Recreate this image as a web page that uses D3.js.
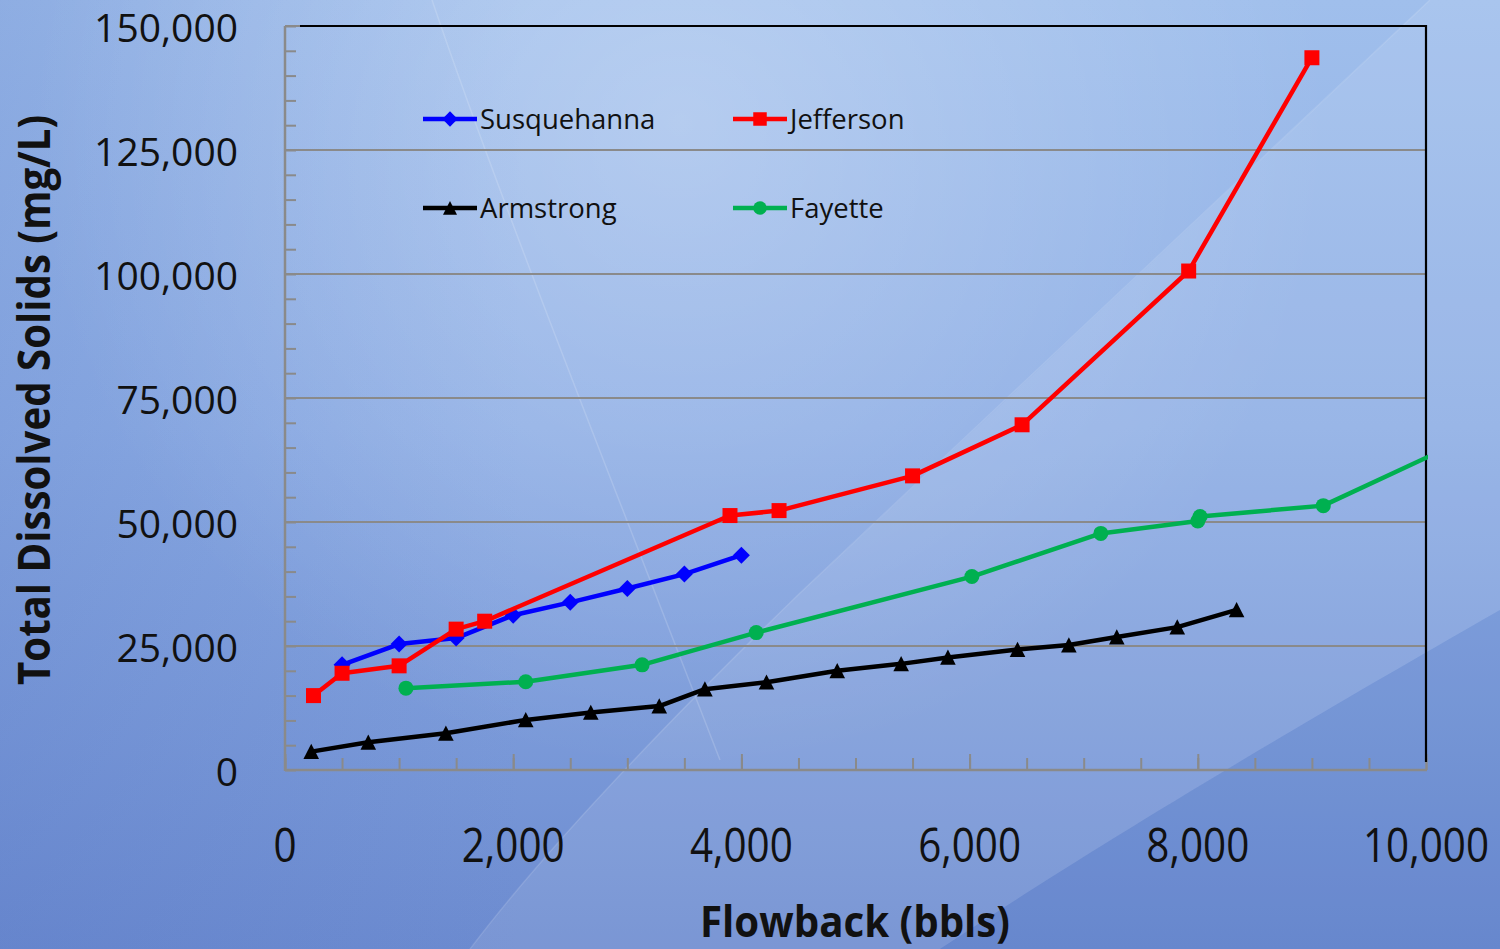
<!DOCTYPE html>
<html>
<head>
<meta charset="utf-8">
<script src="https://cdn.jsdelivr.net/npm/d3@7"></script>
<style>
  html, body { margin: 0; padding: 0; background: #8aaae2; }
  svg { display: block; }
</style>
</head>
<body>
<svg id="chart" width="1500" height="949"></svg>
<script>
// ---- data -------------------------------------------------------------
const seriesNames = ["Susquehanna", "Jefferson", "Armstrong", "Fayette"];

const susquehannaX = [500, 1000, 1500, 2000, 2500, 3000, 3500, 4000];
const susquehannaY = [21200, 25400, 26600, 31200, 33800, 36600, 39500, 43300];

const jeffersonX = [250, 500, 1000, 1500, 1750, 3900, 4330, 5500, 6460, 7920, 9000];
const jeffersonY = [15000, 19500, 21000, 28400, 30000, 51300, 52300, 59300, 69600, 100600, 143600];

const armstrongX = [230, 730, 1410, 2110, 2680, 3280, 3680, 4220, 4840, 5400, 5810, 6420, 6870, 7290, 7820, 8340];
const armstrongY = [3700, 5600, 7400, 10100, 11600, 12900, 16300, 17700, 20000, 21400, 22700, 24300, 25200, 26800, 28800, 32300];

const fayetteX = [1060, 2110, 3130, 4130, 6020, 7150, 8000, 8020, 9100, 10500];
const fayetteY = [16500, 17800, 21200, 27700, 39000, 47700, 50200, 51100, 53300, 68300];

const yTickValues = [0, 25000, 50000, 75000, 100000, 125000, 150000];
const xTickValues = [0, 2000, 4000, 6000, 8000, 10000];

const xTitle = "Flowback (bbls)";
const yTitle = "Total Dissolved Solids (mg/L)";

// ---- layout ------------------------------------------------------------
const W = 1500, H = 949;
const plot = { left: 285, right: 1426, top: 26, bottom: 770 };

const x = d3.scaleLinear().domain([0, 10000]).range([plot.left, plot.right]);
const y = d3.scaleLinear().domain([0, 150000]).range([plot.bottom, plot.top]);

const svg = d3.select("#chart");
const defs = svg.append("defs");

// ---- backdrop ----------------------------------------------------------
const bgGrad = defs.append("linearGradient").attr("id", "bgGrad")
  .attr("x1", 0).attr("y1", 0).attr("x2", 0).attr("y2", 1);
[["0%", "#a0bfec"], ["45%", "#8eaee5"], ["100%", "#6c8bd0"]].forEach(([o, c]) =>
  bgGrad.append("stop").attr("offset", o).attr("stop-color", c));

const sideGrad = defs.append("linearGradient").attr("id", "sideGrad")
  .attr("x1", 0).attr("y1", 0).attr("x2", 1).attr("y2", 0);
sideGrad.append("stop").attr("offset", "0%").attr("stop-color", "#4f6fc0").attr("stop-opacity", 0.22);
sideGrad.append("stop").attr("offset", "35%").attr("stop-color", "#4f6fc0").attr("stop-opacity", 0);

const glow = defs.append("radialGradient").attr("id", "glow")
  .attr("gradientUnits", "userSpaceOnUse").attr("cx", 680).attr("cy", 120).attr("r", 650);
glow.append("stop").attr("offset", "0%").attr("stop-color", "#ffffff").attr("stop-opacity", 0.26);
glow.append("stop").attr("offset", "100%").attr("stop-color", "#ffffff").attr("stop-opacity", 0);

const back = svg.append("g").attr("class", "backdrop");
back.append("rect").attr("width", W).attr("height", H).attr("fill", "url(#bgGrad)");
back.append("rect").attr("width", W).attr("height", H).attr("fill", "url(#sideGrad)");
back.append("rect").attr("width", W).attr("height", H).attr("fill", "url(#glow)");

// broad light sweep running from the upper right towards the lower left
back.append("path")
  .attr("d", "M1430,0 C1250,170 1050,360 800,593 C700,690 560,830 470,949 L940,949 C1060,870 1220,770 1500,610 L1500,0 Z")
  .attr("fill", "#ffffff").attr("opacity", 0.1);
// darker wedge in the lower right corner
back.append("path")
  .attr("d", "M940,949 C1060,870 1220,770 1500,610 L1500,949 Z")
  .attr("fill", "#2f4fa8").attr("opacity", 0.07);
// thin light streaks
back.append("path")
  .attr("d", "M432,0 C500,200 600,450 720,760")
  .attr("fill", "none").attr("stroke", "#ffffff").attr("stroke-opacity", 0.16).attr("stroke-width", 1.5);
back.append("path")
  .attr("d", "M1430,0 C1250,170 1050,360 800,593 C700,690 560,830 470,949")
  .attr("fill", "none").attr("stroke", "#ffffff").attr("stroke-opacity", 0.12).attr("stroke-width", 1.5);

// ---- grid and frame ----------------------------------------------------
const gridColor = "#8a8a8a";
svg.append("g").selectAll("line")
  .data(yTickValues.filter(v => v > 0))
  .join("line")
  .attr("x1", plot.left).attr("x2", plot.right)
  .attr("y1", d => y(d)).attr("y2", d => y(d))
  .attr("stroke", gridColor).attr("stroke-width", 2);

// minor ticks on the value axis every 5,000, pointing into the plot
const yAxis = d3.axisLeft(y).tickValues(d3.range(0, 150001, 5000)).tickSize(-11).tickFormat("");
const yAxisG = svg.append("g").attr("transform", `translate(${plot.left},0)`).call(yAxis);
yAxisG.selectAll("line").attr("stroke", gridColor).attr("stroke-width", 2);
yAxisG.select(".domain").remove();

// ticks on the category axis: every 500, longer at each labelled 2,000
const xMinor = d3.axisBottom(x).tickValues(d3.range(0, 10001, 500)).tickSize(-12).tickFormat("");
const xMinorG = svg.append("g").attr("transform", `translate(0,${plot.bottom})`).call(xMinor);
xMinorG.selectAll("line").attr("stroke", gridColor).attr("stroke-width", 2);
xMinorG.select(".domain").remove();
const xMajor = d3.axisBottom(x).tickValues(xTickValues).tickSize(-16).tickFormat("");
const xMajorG = svg.append("g").attr("transform", `translate(0,${plot.bottom})`).call(xMajor);
xMajorG.selectAll("line").attr("stroke", gridColor).attr("stroke-width", 2);
xMajorG.select(".domain").remove();

// top and right edges of the frame
svg.append("path")
  .attr("d", `M${plot.left + 15},${plot.top} H${plot.right} V${plot.bottom - 8}`)
  .attr("fill", "none").attr("stroke", "#000").attr("stroke-width", 2.2);
// axis lines
svg.append("line").attr("x1", plot.left).attr("x2", plot.left)
  .attr("y1", plot.top).attr("y2", plot.bottom + 1)
  .attr("stroke", gridColor).attr("stroke-width", 2.5);
svg.append("line").attr("x1", plot.left).attr("x2", plot.right + 1)
  .attr("y1", plot.bottom).attr("y2", plot.bottom)
  .attr("stroke", gridColor).attr("stroke-width", 2.5);

// ---- tick labels and titles -------------------------------------------
const fmt = d3.format(",");
svg.append("g").selectAll("text")
  .data(yTickValues)
  .join("text")
  .attr("x", 238).attr("y", d => y(d) + 16)
  .attr("text-anchor", "end")
  .attr("font-family", "'Open Sans', sans-serif")
  .attr("font-size", 39)
  .attr("fill", "#111")
  .text(d => fmt(d));

svg.append("g").selectAll("text")
  .data(xTickValues)
  .join("text")
  .attr("transform", d => `translate(${x(d)},862) scale(0.86,1)`)
  .attr("text-anchor", "middle")
  .attr("font-family", "'Open Sans', sans-serif")
  .attr("font-size", 47)
  .attr("fill", "#111")
  .text(d => fmt(d));

svg.append("text")
  .attr("x", 855).attr("y", 937)
  .attr("text-anchor", "middle")
  .attr("font-family", "'Open Sans', sans-serif")
  .attr("font-weight", "bold")
  .attr("font-size", 43)
  .attr("textLength", 310).attr("lengthAdjust", "spacingAndGlyphs")
  .attr("fill", "#111")
  .text(xTitle);

svg.append("text")
  .attr("transform", "translate(50,400) rotate(-90)")
  .attr("text-anchor", "middle")
  .attr("font-family", "'Open Sans', sans-serif")
  .attr("font-weight", "bold")
  .attr("font-size", 44)
  .attr("textLength", 570).attr("lengthAdjust", "spacingAndGlyphs")
  .attr("fill", "#111")
  .text(yTitle);

// ---- markers -----------------------------------------------------------
const markerPath = {
  diamond: r => `M0,${-r}L${r},0L0,${r}L${-r},0Z`,
  square: r => `M${-r},${-r}H${r}V${r}H${-r}Z`,
  triangle: r => `M0,${-r}L${r},${r * 0.95}L${-r},${r * 0.95}Z`,
  circle: r => `M${-r},0A${r},${r} 0 1,0 ${r},0A${r},${r} 0 1,0 ${-r},0Z`
};

const series = [
  { name: seriesNames[0], xs: susquehannaX, ys: susquehannaY, color: "#0000ff", marker: "diamond", r: 8.5 },
  { name: seriesNames[1], xs: jeffersonX, ys: jeffersonY, color: "#ff0000", marker: "square", r: 7.5 },
  { name: seriesNames[2], xs: armstrongX, ys: armstrongY, color: "#000000", marker: "triangle", r: 7.8 },
  { name: seriesNames[3], xs: fayetteX, ys: fayetteY, color: "#00b050", marker: "circle", r: 7.5 }
];

defs.append("clipPath").attr("id", "plotClip")
  .append("rect")
  .attr("x", plot.left).attr("y", plot.top - 10)
  .attr("width", plot.right - plot.left + 2).attr("height", plot.bottom - plot.top + 10);

const line = d3.line().x(d => x(d[0])).y(d => y(d[1]));
const seriesG = svg.append("g").attr("clip-path", "url(#plotClip)");

series.forEach(s => {
  const pts = s.xs.map((v, i) => [v, s.ys[i]]);
  const g = seriesG.append("g");
  g.append("path")
    .datum(pts)
    .attr("d", line)
    .attr("fill", "none")
    .attr("stroke", s.color)
    .attr("stroke-width", 4.5)
    .attr("stroke-linejoin", "round");
  g.selectAll("path.mk")
    .data(pts.filter(p => p[0] <= 10000))
    .join("path")
    .attr("class", "mk")
    .attr("transform", d => `translate(${x(d[0])},${y(d[1])})`)
    .attr("d", markerPath[s.marker](s.r))
    .attr("fill", s.color);
});

// ---- legend ------------------------------------------------------------
const legendPos = [
  { lx: 423, ly: 119 },
  { lx: 733, ly: 119 },
  { lx: 423, ly: 208 },
  { lx: 733, ly: 208 }
];
const legend = svg.append("g");
series.forEach((s, i) => {
  const p = legendPos[i];
  const g = legend.append("g").attr("transform", `translate(${p.lx},${p.ly})`);
  g.append("line").attr("x1", 0).attr("x2", 54).attr("y1", 0).attr("y2", 0)
    .attr("stroke", s.color).attr("stroke-width", 4.5);
  g.append("path").attr("transform", "translate(27,0)")
    .attr("d", markerPath[s.marker](s.r * 0.9)).attr("fill", s.color);
  g.append("text")
    .attr("x", 57).attr("y", 9.5)
    .attr("font-family", "'Open Sans', sans-serif")
    .attr("font-size", 27.5)
    .attr("fill", "#111")
    .text(s.name);
});
</script>
</body>
</html>
